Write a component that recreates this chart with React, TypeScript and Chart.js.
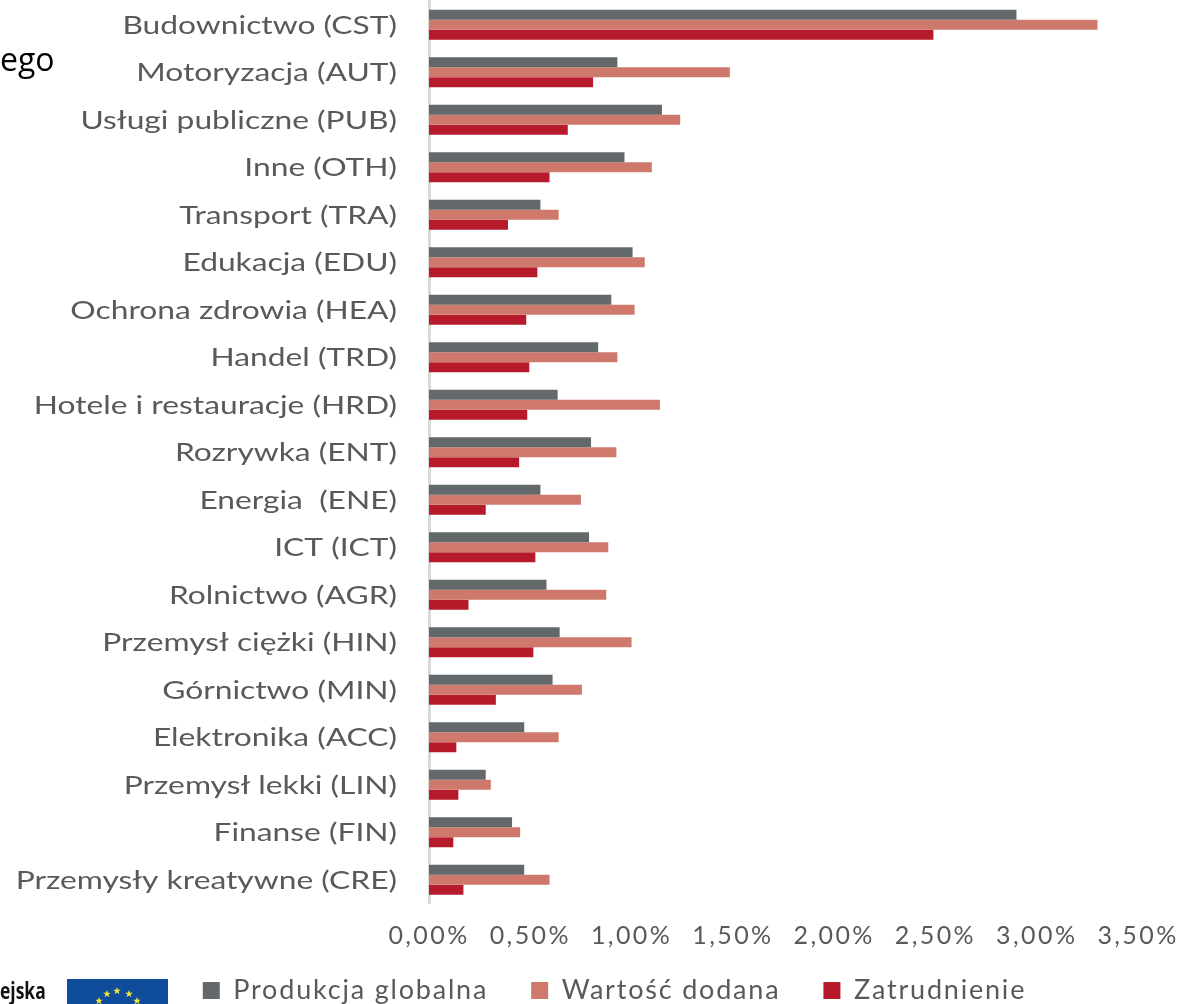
import React, { useEffect, useRef } from "react";
import { Chart, registerables } from "chart.js";

Chart.register(...registerables);

const categories = [
  "Budownictwo (CST)", "Motoryzacja (AUT)", "Usługi publiczne (PUB)", "Inne (OTH)",
  "Transport (TRA)", "Edukacja (EDU)", "Ochrona zdrowia (HEA)", "Handel (TRD)",
  "Hotele i restauracje (HRD)", "Rozrywka (ENT)", "Energia  (ENE)", "ICT (ICT)",
  "Rolnictwo (AGR)", "Przemysł ciężki (HIN)", "Górnictwo (MIN)", "Elektronika (ACC)",
  "Przemysł lekki (LIN)", "Finanse (FIN)", "Przemysły kreatywne (CRE)",
];
const produkcja = [2.9, 0.93, 1.15, 0.965, 0.55, 1.005, 0.9, 0.835, 0.635, 0.8, 0.55, 0.79, 0.58, 0.645, 0.61, 0.47, 0.28, 0.41, 0.47];
const wartosc = [3.3, 1.485, 1.24, 1.1, 0.64, 1.065, 1.015, 0.93, 1.14, 0.925, 0.75, 0.885, 0.875, 1.0, 0.755, 0.64, 0.305, 0.45, 0.595];
const zatrudnienie = [2.49, 0.81, 0.685, 0.595, 0.39, 0.535, 0.48, 0.495, 0.485, 0.445, 0.28, 0.525, 0.195, 0.515, 0.33, 0.135, 0.145, 0.12, 0.17];

const FONT = "Lato";
const GREY = "#595959";
const LABEL_RIGHT = 397;
const LABEL_STRETCH = 1.27;
const LEGEND_SPACING = "1.8px";

// The reference's labels are a horizontally stretched typeface: widen the axis text when it is painted.
const stretchText = {
  id: "stretchText",
  beforeLayout(chart: any) {
    chart.ctx.letterSpacing = LEGEND_SPACING;
  },
  beforeDraw(chart: any) {
    const c = chart.ctx;
    c.letterSpacing = LEGEND_SPACING;
    const y = chart.scales.y;
    const x = chart.scales.x;
    if (!y.__wrapped) {
      const orig = y.drawLabels;
      y.drawLabels = function (a: any) {
        c.save();
        c.letterSpacing = "0px";
        c.translate(LABEL_RIGHT, 1);
        c.scale(LABEL_STRETCH, 1);
        c.translate(-LABEL_RIGHT, 0);
        orig.call(this, a);
        c.restore();
      };
      y.__wrapped = true;
    }
    if (!x.__wrapped) {
      const orig = x.drawLabels;
      x.drawLabels = function (a: any) {
        c.save();
        c.letterSpacing = "2.4px";
        orig.call(this, a);
        c.restore();
      };
      x.__wrapped = true;
    }
  },
  afterLayout(chart: any) {
    chart.legend.left += 45.5;
    chart.legend.right += 45.5;
    chart.legend.top = 934;
  },
};

const STAR = "M0,-4 L1,-1.2 L3.8,-1.2 L1.5,0.5 L2.4,3.2 L0,1.6 L-2.4,3.2 L-1.5,0.5 L-3.8,-1.2 L-1,-1.2 Z";
const starSpots = [[40, 15], [50, 12], [62, 15], [32, 22], [70, 22]];

export default function App() {
  const ref = useRef<HTMLCanvasElement>(null);
  useEffect(() => {
    const canvas = ref.current!;
    const chart = new Chart(canvas, {
      type: "bar",
      data: {
        labels: categories,
        datasets: [
          { label: "Produkcja globalna", data: produkcja, backgroundColor: "#63686b" },
          { label: "Wartość dodana", data: wartosc, backgroundColor: "#cf786c" },
          { label: "Zatrudnienie", data: zatrudnienie, backgroundColor: "#b61a2b" },
        ],
      },
      options: {
        indexAxis: "y",
        responsive: false,
        animation: false,
        layout: { padding: { top: 1, right: 63, left: 0, bottom: 0 } },
        datasets: { bar: { categoryPercentage: 0.63, barPercentage: 1 } },
        scales: {
          x: {
            min: 0, max: 3.5,
            grid: { display: false, drawTicks: false },
            border: { display: false },
            afterFit: (s: any) => { s.height = 60.5; },
            ticks: {
              stepSize: 0.5,
              maxRotation: 0,
              padding: 17,
              color: GREY,
              font: { family: FONT, size: 25 },
              callback: (v: any) => Number(v).toFixed(2).replace(".", ",") + "%",
            },
          },
          y: {
            grid: { display: false, drawTicks: false },
            border: { display: true, color: "#d9d9d9", width: 3 },
            afterFit: (s: any) => { s.width = 429; s.paddingTop = 0; s.paddingBottom = 0; },
            ticks: {
              padding: 32,
              autoSkip: false,
              color: GREY,
              font: { family: FONT, size: 25 },
            },
          },
        },
        plugins: {
          tooltip: { enabled: false },
          legend: {
            position: "bottom",
            maxHeight: 40,
            labels: {
              color: GREY,
              boxWidth: 17,
              boxHeight: 17,
              padding: 43,
              font: { family: FONT, size: 27 },
            },
          },
        },
      } as any,
      plugins: [stretchText],
    });
    return () => chart.destroy();
  }, []);

  return (
    <div style={{ position: "absolute", left: 0, top: 0, width: 1201, height: 1004, overflow: "hidden", background: "#fff" }}>
      <canvas ref={ref} width={1201} height={1004} style={{ position: "absolute", left: 0, top: 0 }} />
      <div style={{ position: "absolute", left: 0, top: 37, font: "32px 'Open Sans'", color: "#000", lineHeight: "44px" }}>ego</div>
      <div style={{ position: "absolute", left: 0, top: 975, font: "bold 23px 'Open Sans'", color: "#111", lineHeight: "30px", transform: "scaleX(0.76)", transformOrigin: "left" }}>ejska</div>
      <svg style={{ position: "absolute", left: 67, top: 979 }} width={101} height={25}>
        <rect x={0} y={0} width={101} height={25} fill="#0f4c9c" />
        {starSpots.map(([x, y], i) => (
          <path key={i} d={STAR} transform={`translate(${x},${y})`} fill="#f4e93a" />
        ))}
      </svg>
    </div>
  );
}
